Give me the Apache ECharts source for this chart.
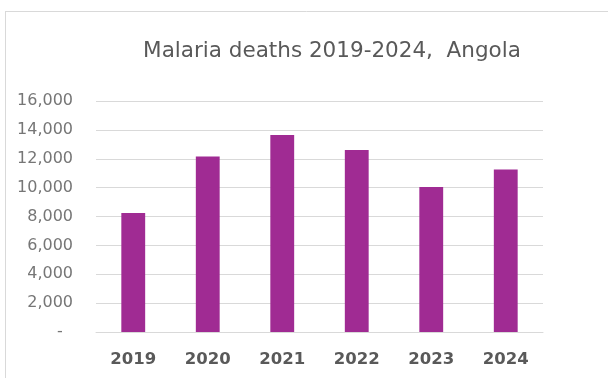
<!DOCTYPE html>
<html>
<head>
<meta charset="utf-8">
<script src="https://cdn.jsdelivr.net/npm/echarts@6/dist/echarts.min.js"></script>
<style>
html,body{margin:0;padding:0;background:#fff;}
#chart{width:608px;height:378px;}
</style>
</head>
<body>
<div id="chart"></div>
<script>
const categories = ['2019', '2020', '2021', '2022', '2023', '2024'];
const deaths = [8250, 12150, 13650, 12600, 10050, 11250];
const titleText = 'Malaria deaths 2019-2024,  Angola';

const chart = echarts.init(document.getElementById('chart'));
chart.setOption({
  backgroundColor: '#ffffff',
  animation: false,
  title: {
    text: titleText,
    left: 327,
    top: 35,
    textAlign: 'center',
    textStyle: { fontFamily: 'DejaVu Sans', fontSize: 21.5, fontWeight: 'normal', color: '#595959' }
  },
  graphic: [
    { type: 'line', shape: { x1: 5, y1: 11.5, x2: 608, y2: 11.5 }, style: { stroke: '#d9d9d9', lineWidth: 1 } },
    { type: 'line', shape: { x1: 5.5, y1: 11, x2: 5.5, y2: 378 }, style: { stroke: '#d9d9d9', lineWidth: 1 } }
  ],
  grid: { left: 96, right: 65, top: 101, bottom: 46, containLabel: false },
  xAxis: {
    type: 'category',
    data: categories,
    axisLine: { show: true, lineStyle: { color: '#d9d9d9', width: 1 } },
    axisTick: { show: false },
    axisLabel: { margin: 19, fontFamily: 'DejaVu Sans', fontSize: 16.5, fontWeight: 'bold', color: '#595959' }
  },
  yAxis: {
    type: 'value',
    min: 0,
    max: 16000,
    interval: 2000,
    axisLine: { show: false },
    axisTick: { show: false },
    splitLine: { lineStyle: { color: '#d9d9d9', width: 1 } },
    axisLabel: {
      margin: 23,
      fontFamily: 'DejaVu Sans',
      fontSize: 16,
      color: '#767676',
      formatter: function (v) { return v === 0 ? '-  ' : v.toLocaleString('en-US'); }
    }
  },
  series: [{
    type: 'bar',
    data: deaths,
    barWidth: '32%',
    itemStyle: { color: '#A02B93' }
  }]
});
</script>
</body>
</html>
